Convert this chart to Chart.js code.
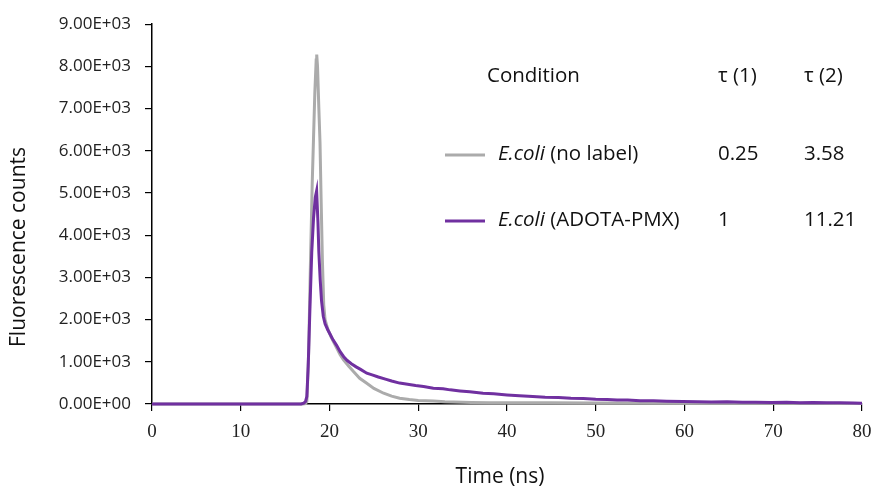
<!DOCTYPE html>
<html>
<head>
<meta charset="utf-8">
<script src="https://cdn.jsdelivr.net/npm/chart.js@4.4.1/dist/chart.umd.min.js"></script>
<style>
  html, body { margin: 0; padding: 0; background: #fff; }
  #wrap { width: 873px; height: 489px; }
</style>
</head>
<body>
<div id="wrap"><canvas id="decayChart" width="873" height="489"></canvas></div>
<script>
// time (ns) and fluorescence counts
const purpleTime = [0, 16.8, 17.1, 17.3, 17.45, 17.6, 17.8, 18.0, 18.2, 18.4, 18.55, 18.7, 18.8, 18.95, 19.1, 19.3, 19.5, 19.8, 20.1, 20.4, 20.8, 21.2, 21.6, 22.0, 22.5, 23.0, 23.5, 24.2, 24.8, 25.5, 26.3, 27.0, 27.9, 28.8, 29.7, 30.6, 31.7, 32.8, 33.6, 34.7, 35.8, 37.3, 38.5, 40.0, 41.4, 42.9, 44.3, 45.8, 47.2, 48.6, 50.0, 51.3, 52.4, 53.6, 55.0, 56.5, 58.0, 59.8, 61.5, 63.0, 64.8, 66.5, 68.0, 69.8, 71.5, 73.0, 74.5, 76.0, 77.5, 79.0, 80.0];
const purpleCounts = [0, 0, 20, 60, 180, 900, 2300, 3600, 4400, 4900, 5050, 4300, 3600, 2950, 2450, 2080, 1900, 1760, 1640, 1520, 1390, 1240, 1120, 1030, 950, 880, 820, 730, 690, 640, 590, 545, 495, 470, 440, 415, 375, 360, 335, 310, 290, 255, 240, 215, 195, 175, 160, 152, 135, 128, 112, 108, 96, 92, 78, 76, 65, 58, 56, 48, 52, 44, 42, 38, 40, 30, 34, 27, 30, 22, 18];

const grayTime = [0, 17.0, 17.3, 17.45, 17.65, 17.85, 18.05, 18.2, 18.35, 18.5, 18.56, 18.65, 18.8, 18.93, 19.05, 19.2, 19.35, 19.5, 19.8, 20.2, 20.7, 21.2, 21.6, 22.2, 22.7, 23.4, 24.2, 25.0, 26.1, 27.0, 27.9, 29.0, 30.0, 31.7, 33.0, 35.0, 36.0, 38, 40, 45, 50, 55, 60, 65, 70, 75, 80];
const grayCounts = [0, 0, 10, 60, 1200, 3300, 5200, 6300, 7400, 8150, 8280, 8000, 7000, 6200, 4900, 3400, 2350, 2000, 1780, 1580, 1370, 1170, 1040, 890, 770, 610, 490, 370, 255, 185, 135, 105, 85, 70, 55, 42, 38, 32, 30, 28, 25, 22, 20, 18, 16, 15, 14];

// table shown inside the plot
const tableHeader = ['Condition', 'τ (1)', 'τ (2)'];
const conditionItalic = ['E.coli', 'E.coli'];
const conditionRest = [' (no label)', ' (ADOTA-PMX)'];
const tau1 = ['0.25', '1'];
const tau2 = ['3.58', '11.21'];
const seriesColors = ['#ababab', '#7030a0'];

const xTitle = 'Time (ns)';
const yTitle = 'Fluorescence counts';

const toPoints = (xs, ys) => xs.map((x, i) => ({ x: x, y: ys[i] }));

const sansFont = '"Open Sans", sans-serif';

const tablePlugin = {
  id: 'tauTable',
  afterDraw: (chart) => {
    const ctx = chart.ctx;
    ctx.save();
    ctx.textBaseline = 'middle';
    ctx.fillStyle = '#111';

    // axis titles (placed like the original, a bit off-centre)
    ctx.textAlign = 'center';
    ctx.font = '21px ' + sansFont;
    ctx.fillText(xTitle, 500, 477);
    ctx.save();
    ctx.translate(19, 247);
    ctx.rotate(-Math.PI / 2);
    ctx.fillText(yTitle, 0, 0);
    ctx.restore();

    ctx.textAlign = 'left';
    ctx.font = '20.5px ' + sansFont;
    const cols = [487, 718, 804];
    ctx.fillText(tableHeader[0], cols[0], 76);
    ctx.fillText(tableHeader[1], cols[1], 76);
    ctx.fillText(tableHeader[2], cols[2], 76);
    const rows = [154, 220];
    rows.forEach((y, i) => {
      ctx.strokeStyle = seriesColors[i];
      ctx.lineWidth = 3;
      ctx.beginPath();
      ctx.moveTo(445, y + 1);
      ctx.lineTo(485, y + 1);
      ctx.stroke();
      ctx.font = 'italic 20.5px ' + sansFont;
      ctx.fillText(conditionItalic[i], 498, y);
      const w = ctx.measureText(conditionItalic[i]).width;
      ctx.font = '20.5px ' + sansFont;
      ctx.fillText(conditionRest[i], 498 + w, y);
      ctx.fillText(tau1[i], cols[1], y);
      ctx.fillText(tau2[i], cols[2], y);
    });
    ctx.restore();
  }
};

const ctx = document.getElementById('decayChart').getContext('2d');
const decayChart = new Chart(ctx, {
  type: 'line',
  data: {
    datasets: [
      {
        label: 'E.coli (ADOTA-PMX)',
        data: toPoints(purpleTime, purpleCounts),
        borderColor: seriesColors[1],
        borderWidth: 3,
        pointRadius: 0,
        tension: 0,
        clip: false,
        order: 0
      },
      {
        label: 'E.coli (no label)',
        data: toPoints(grayTime, grayCounts),
        borderColor: seriesColors[0],
        borderWidth: 3,
        pointRadius: 0,
        tension: 0,
        clip: false,
        order: 1
      }
    ]
  },
  options: {
    responsive: false,
    animation: false,
    layout: { padding: { top: 22, right: 11, left: 0, bottom: 0 } },
    plugins: {
      legend: { display: false },
      tooltip: { enabled: false }
    },
    scales: {
      x: {
        type: 'linear',
        min: 0,
        max: 80,
        afterFit: (scale) => {
          scale.height = 85;
          scale.paddingRight = 0;
          scale.paddingLeft = 0;
        },
        ticks: {
          stepSize: 10,
          color: '#222',
          padding: 10,
          maxRotation: 0,
          font: { family: '"Liberation Serif", serif', size: 19 }
        },
        grid: { drawOnChartArea: false, tickLength: 7, color: '#000', lineWidth: 1.2 },
        border: { color: '#000', width: 1.5 }
      },
      y: {
        min: 0,
        max: 9000,
        afterFit: (scale) => { scale.width = 152; },
        ticks: {
          stepSize: 1000,
          color: '#222',
          padding: 14,
          font: { family: sansFont, size: 17 },
          callback: (v) => v === 0 ? '0.00E+00' : (v / 1000).toFixed(2) + 'E+03'
        },
        grid: { drawOnChartArea: false, tickLength: 7, color: '#000', lineWidth: 1.2 },
        border: { color: '#000', width: 1.5 }
      }
    }
  },
  plugins: [tablePlugin]
});
</script>
</body>
</html>
